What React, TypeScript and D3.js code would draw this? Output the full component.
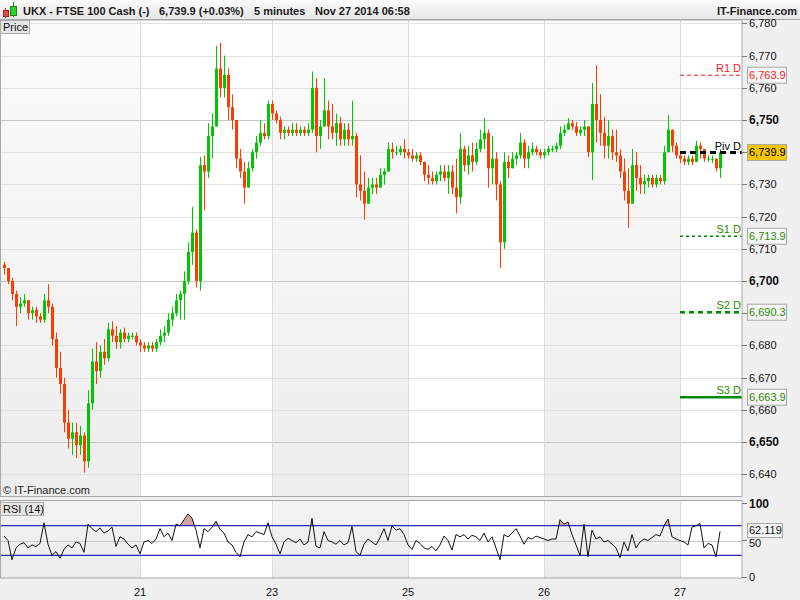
import * as d3 from "d3";
import React from "react";

// 5 minute candles per session: [high, low, close]; open = previous close
const firstOpen = 6705;
const nov20 = [
  [6706, 6702, 6704], [6704, 6699, 6700], [6701, 6694, 6696], [6697, 6686, 6692],
  [6695, 6690, 6693], [6696, 6692, 6694], [6694, 6688, 6690], [6692, 6688, 6691],
  [6692, 6687, 6689], [6690, 6687, 6688], [6696, 6687, 6694], [6699, 6690, 6692],
  [6693, 6680, 6682], [6684, 6670, 6673], [6678, 6665, 6668], [6670, 6653, 6656],
  [6660, 6648, 6651], [6656, 6646, 6653], [6656, 6645, 6649], [6655, 6646, 6652],
  [6653, 6640.5, 6644], [6666, 6642, 6662], [6679, 6660, 6675], [6681, 6668, 6672],
  [6680, 6670, 6678], [6682, 6674, 6676], [6687, 6675, 6685], [6687.5, 6681, 6683],
  [6686, 6679, 6681], [6685, 6679, 6684], [6685.5, 6681, 6682], [6684, 6681, 6683],
  [6684, 6682, 6683], [6684, 6680, 6681],
];
const nov21 = [
  [6682, 6678, 6680], [6681, 6678, 6679], [6681, 6678, 6680], [6681, 6678, 6679],
  [6682, 6678, 6681], [6685, 6680, 6683], [6686, 6681, 6684], [6690, 6683, 6688],
  [6692, 6686, 6690], [6696, 6689, 6694], [6697, 6688, 6696], [6703, 6688, 6700],
  [6712, 6699, 6709], [6723, 6705, 6715], [6716, 6698, 6700], [6738.5, 6697, 6736],
  [6739, 6722, 6734], [6749, 6732, 6745], [6752, 6738, 6748], [6773, 6748, 6766],
  [6774, 6757, 6760], [6770, 6757, 6764], [6766, 6750, 6754], [6758, 6747, 6750],
  [6749, 6735, 6738], [6741, 6732, 6734], [6737, 6724, 6729], [6737, 6729, 6735],
  [6741, 6734, 6740], [6745, 6738, 6743], [6750, 6742, 6746], [6749, 6744, 6745],
  [6756, 6744, 6755],
];
const nov24 = [
  [6756, 6750, 6752], [6753, 6749, 6750], [6751, 6744, 6746], [6748, 6744, 6747],
  [6748, 6745, 6746], [6749, 6745, 6747], [6749, 6745, 6746], [6748, 6745, 6747],
  [6748, 6745, 6746], [6749, 6745, 6747], [6765, 6746, 6760], [6763, 6740, 6745],
  [6750, 6741, 6748], [6763, 6748, 6753], [6756, 6744, 6748], [6755, 6744, 6746],
  [6752, 6742, 6749], [6751, 6742, 6744], [6749, 6742, 6747], [6749, 6742, 6744],
  [6756, 6742, 6745], [6746, 6726, 6730], [6739, 6725, 6728], [6734, 6719, 6724],
  [6732, 6724, 6729], [6732, 6727, 6730], [6732, 6727, 6729], [6735, 6729, 6733],
  [6735, 6730, 6734], [6743, 6734, 6741], [6743, 6738, 6740], [6742, 6739, 6740],
  [6742, 6739, 6741], [6744, 6738, 6740],
];
const nov25 = [
  [6741, 6738, 6739], [6741, 6737, 6738], [6740, 6737, 6739], [6740, 6736, 6737],
  [6737, 6731, 6733], [6736, 6730, 6732], [6734, 6730, 6731], [6734, 6730, 6733],
  [6736, 6731, 6734], [6736, 6731, 6732], [6736, 6727, 6734], [6736, 6727, 6729],
  [6738, 6721, 6726], [6746, 6724, 6741], [6742, 6734, 6736], [6742, 6733, 6739],
  [6743, 6734, 6737], [6743, 6736, 6741], [6747, 6740, 6744], [6750.6, 6741, 6746],
  [6747, 6729, 6735], [6745, 6730, 6738], [6740, 6725, 6730], [6731, 6704, 6712],
  [6740, 6710, 6737], [6739, 6732, 6735], [6740, 6736, 6738], [6740, 6736, 6739],
  [6746, 6738, 6743], [6744, 6735, 6738], [6742, 6735, 6740], [6743, 6739, 6741],
  [6742, 6739, 6740], [6741, 6738, 6739],
];
const nov26 = [
  [6741, 6738, 6740], [6742, 6739, 6741], [6742, 6740, 6741], [6743, 6740, 6742],
  [6748, 6741, 6746], [6748.5, 6745, 6747], [6750.6, 6747, 6749], [6750, 6747, 6748],
  [6749.4, 6745, 6746], [6748, 6745, 6747], [6750, 6745, 6748], [6747, 6738.5, 6740],
  [6761.5, 6731.4, 6755], [6767, 6743, 6750], [6758, 6742, 6746], [6751, 6738, 6742],
  [6750, 6738, 6745], [6747, 6737.6, 6740], [6747, 6737, 6739], [6741, 6732, 6734],
  [6738, 6725, 6728], [6735, 6716.5, 6724], [6741, 6726, 6736], [6740, 6728, 6732],
  [6736, 6727, 6730], [6733, 6727, 6731], [6733, 6729, 6732], [6733, 6729, 6730],
  [6733, 6729, 6732], [6733, 6730, 6731], [6742, 6730, 6740], [6751.5, 6740, 6747],
  [6747, 6740, 6742], [6743, 6738, 6739],
];
const nov27 = [
  [6740, 6736.6, 6738], [6739, 6736, 6737], [6739, 6736, 6738], [6739, 6736, 6737],
  [6743.5, 6737, 6742], [6743, 6738, 6741], [6740, 6737, 6738], [6739, 6737, 6738],
  [6739, 6736.6, 6738], [6738, 6734, 6735], [6741, 6732, 6739.9],
];

// RSI(14), one value per candle
const rsi20 = [56, 50, 24, 40, 45, 47, 40, 44, 42, 46, 74, 45, 30, 35, 26, 38, 44, 40, 48, 46, 34, 72, 66, 62, 67, 60, 63, 68, 42, 55, 52, 45, 40, 44];
const rsi21 = [32, 48, 50, 46, 52, 66, 55, 60, 50, 72, 70, 78, 86, 80, 64, 40, 66, 62, 68, 76, 65, 60, 48, 44, 34, 28, 48, 58, 55, 62, 60, 58, 74];
const rsi24 = [55, 45, 32, 48, 53, 50, 47, 52, 44, 48, 80, 42, 40, 62, 50, 48, 45, 50, 44, 47, 69, 35, 30, 45, 52, 48, 44, 54, 66, 50, 70, 64, 66, 58];
const rsi25 = [44, 38, 50, 46, 40, 38, 42, 36, 44, 56, 50, 37, 58, 55, 58, 52, 57, 55, 50, 60, 48, 55, 40, 24, 58, 55, 60, 66, 56, 45, 54, 52, 56, 54];
const rsi26 = [52, 50, 52, 52, 78, 72, 75, 58, 44, 30, 72, 28, 64, 52, 55, 48, 50, 45, 40, 27, 48, 36, 58, 40, 48, 52, 50, 54, 58, 56, 70, 79, 55, 52];
const rsi27 = [50, 48, 44, 68, 70, 73, 40, 46, 44, 28, 62.119];

const dayLabels = ["21", "23", "25", "26", "27"];
const pivotNames = ["R1 D", "Piv D", "S1 D", "S2 D", "S3 D"];
const pivotValues = [6763.9, 6739.9, 6713.9, 6690.3, 6663.9];
const lastRsi = 62.119;

const UP = "#00c800";
const DOWN = "#ff3c00";
const FONT = "'Liberation Sans', Arial, sans-serif";

const pivotStyle = [
  { color: "#ff1a1a", width: 1, dash: "4,3", fill: "#f6f6f6", text: "#ff1a1a" },
  { color: "#000000", width: 3, dash: "6,4", fill: "#f5c500", text: "#000000" },
  { color: "#008a00", width: 1.5, dash: "3,3", fill: "#f6f6f6", text: "#2a8a00" },
  { color: "#008a00", width: 2.5, dash: "5,4", fill: "#f6f6f6", text: "#2a8a00" },
  { color: "#008a00", width: 2.5, dash: null, fill: "#f6f6f6", text: "#2a8a00" },
];

export default function App() {
  const days = [nov20, nov21, nov24, nov25, nov26, nov27];
  const candles: { o: number; h: number; l: number; c: number }[] = [];
  let prev = firstOpen;
  days.forEach((day) =>
    day.forEach(([h, l, c]) => {
      candles.push({ o: prev, h, l, c });
      prev = c;
    })
  );
  const rsi = [...rsi20, ...rsi21, ...rsi24, ...rsi25, ...rsi26, ...rsi27];
  const dayStarts = Array.from(d3.cumsum(days.map((d) => d.length))).slice(0, -1);

  const left = 1;
  const right = 742;
  const mainTop = 20;
  const mainBottom = 496;
  const rsiTop = 501;
  const rsiBottom = 578;

  const x = d3.scaleLinear().domain([-0.5, 184.5]).range([2, 742]);
  const y = d3.scaleLinear().domain([6640, 6750]).range([474.2, 120]);
  const r = d3.scaleLinear().domain([0, 100]).range([577.5, 503.5]);

  const priceTicks = y.copy().domain([6633, 6781]).ticks(15).filter((t) => t >= 6640 && t <= 6780);
  // labels that sit right behind a value box are not shown (as in the original)
  const hiddenTick = (t: number) => pivotValues.some((v) => Math.abs(y(v) - y(t)) < 8);

  // shaded sessions: 20, 24, 26
  const shaded = [
    [left, x(dayStarts[0])],
    [x(dayStarts[1]), x(dayStarts[2])],
    [x(dayStarts[3]), x(dayStarts[4])],
  ];

  const rsiLine = d3
    .line<number>()
    .x((_, i) => x(i))
    .y((v) => r(v));
  const rsiArea = d3
    .area<number>()
    .x((_, i) => x(i))
    .y0(r(70))
    .y1((v) => r(v));

  const pivotStart = x(dayStarts[4]);

  return (
    <svg
      width={800}
      height={600}
      style={{ position: "absolute", left: 0, top: 0, fontFamily: FONT }}
    >
      <defs>
        <linearGradient id="hdr" x1="0" y1="0" x2="0" y2="1">
          <stop offset="0" stopColor="#fbfbfb" />
          <stop offset="1" stopColor="#e6e6e6" />
        </linearGradient>
        <linearGradient id="shadeMain" x1="0" y1="0" x2="0" y2="1">
          <stop offset="0" stopColor="#fbfbfb" />
          <stop offset="1" stopColor="#ededed" />
        </linearGradient>
        <linearGradient id="shadeRsi" x1="0" y1="0" x2="0" y2="1">
          <stop offset="0" stopColor="#f3f3f3" />
          <stop offset="1" stopColor="#ececec" />
        </linearGradient>
        <clipPath id="clipMain">
          <rect x={left} y={mainTop} width={right - left} height={mainBottom - mainTop} />
        </clipPath>
        <clipPath id="clipOver">
          <rect x={left} y={rsiTop} width={right - left} height={r(70) - rsiTop} />
        </clipPath>
      </defs>

      {/* background */}
      <rect x={0} y={0} width={800} height={600} fill="#f0f0f0" />

      {/* header */}
      <rect x={0} y={0} width={800} height={19} fill="url(#hdr)" />
      <line x1={0} x2={800} y1={19.5} y2={19.5} stroke="#a8a8a8" />
      <line x1={5.5} x2={5.5} y1={8} y2={18} stroke="#b03030" />
      <rect x={3.5} y={10.5} width={5} height={6} fill="#e84848" stroke="#a02828" />
      <line x1={13.5} x2={13.5} y1={2} y2={17} stroke="#208020" />
      <rect x={10.5} y={6.5} width={6} height={9} fill="#30d030" stroke="#208020" />
      <g fontSize={11} fontWeight="bold" fill="#1a1a1a">
        <text x={23} y={15}>UKX - FTSE 100 Cash (-)</text>
        <text x={159} y={15}>6,739.9 (+0.03%)</text>
        <text x={254} y={15}>5 minutes</text>
        <text x={315} y={15}>Nov 27 2014 06:58</text>
        <text x={797} y={15} textAnchor="end">IT-Finance.com</text>
      </g>

      {/* main panel */}
      <rect x={left} y={mainTop} width={right - left} height={mainBottom - mainTop} fill="#ffffff" />
      {shaded.map(([a, b], i) => (
        <rect key={i} x={a} y={mainTop} width={b - a} height={mainBottom - mainTop} fill="url(#shadeMain)" />
      ))}
      {priceTicks.map((t) => (
        <line
          key={t}
          x1={left}
          x2={right}
          y1={Math.round(y(t)) + 0.5}
          y2={Math.round(y(t)) + 0.5}
          stroke={t % 50 === 0 ? "#c6c6c6" : "#e2e2e2"}
        />
      ))}
      {dayStarts.map((s, i) => (
        <line key={i} x1={x(s) + 0.5} x2={x(s) + 0.5} y1={mainTop} y2={mainBottom} stroke="#dcdcdc" />
      ))}

      <g clipPath="url(#clipMain)">
        {candles.map((d, i) => {
          const cx = x(i);
          const col = d.c >= d.o ? UP : DOWN;
          const top = y(Math.max(d.o, d.c));
          const bot = y(Math.min(d.o, d.c));
          return (
            <g key={i}>
              <line
                x1={cx + 0.5}
                x2={cx + 0.5}
                y1={y(Math.max(d.h, d.o, d.c))}
                y2={y(Math.min(d.l, d.o, d.c))}
                stroke={col}
              />
              <rect x={cx - 1} y={top} width={3} height={Math.max(1, bot - top)} fill={col} />
            </g>
          );
        })}

        {pivotValues.map((v, i) => {
          const s = pivotStyle[i];
          const py = y(v);
          return (
            <g key={i}>
              <line
                x1={pivotStart}
                x2={right}
                y1={py}
                y2={py}
                stroke={s.color}
                strokeWidth={s.width}
                strokeDasharray={s.dash || undefined}
              />
              <text x={right - 1} y={py - 3} textAnchor="end" fontSize={11} fill={s.text}>
                {pivotNames[i]}
              </text>
            </g>
          );
        })}
      </g>

      <text x={3} y={494} fontSize={11} fill="#222">© IT-Finance.com</text>
      <rect x={left - 0.5} y={mainTop} width={right - left + 0.5} height={mainBottom - mainTop + 0.5} fill="none" stroke="#a8a8a8" />

      <rect x={0.5} y={20.5} width={29} height={13} fill="#e6e6e6" stroke="#ababab" />
      <text x={3} y={31} fontSize={11} fill="#111">Price</text>

      {/* price axis */}
      {priceTicks.map((t) => (
        <g key={t}>
          <line x1={right} x2={right + 5} y1={Math.round(y(t)) + 0.5} y2={Math.round(y(t)) + 0.5} stroke="#777" />
          {!hiddenTick(t) && (
            <text
              x={749}
              y={y(t)}
              dy="0.36em"
              fontSize={t % 50 === 0 ? 12 : 11}
              fontWeight={t % 50 === 0 ? "bold" : "normal"}
              fill="#111"
            >
              {d3.format(",")(t)}
            </text>
          )}
        </g>
      ))}
      {pivotValues.map((v, i) => {
        const s = pivotStyle[i];
        const py = y(v);
        return (
          <g key={i}>
            <rect x={747.5} y={py - 8} width={39} height={16} fill={s.fill} stroke="#a8a8a8" />
            <text x={749} y={py} dy="0.36em" fontSize={11} fill={s.text}>
              {d3.format(",.1f")(v)}
            </text>
          </g>
        );
      })}

      {/* RSI panel */}
      <rect x={left} y={rsiTop} width={right - left} height={rsiBottom - rsiTop} fill="#ffffff" />
      {shaded.map(([a, b], i) => (
        <rect key={i} x={a} y={rsiTop} width={b - a} height={rsiBottom - rsiTop} fill="url(#shadeRsi)" />
      ))}
      {dayStarts.map((s, i) => (
        <line key={i} x1={x(s) + 0.5} x2={x(s) + 0.5} y1={rsiTop} y2={rsiBottom} stroke="#dcdcdc" />
      ))}
      <line x1={left} x2={right} y1={Math.round(r(50)) + 0.5} y2={Math.round(r(50)) + 0.5} stroke="#c8c8c8" />
      <path d={rsiArea(rsi) || ""} fill="#d4a5a5" clipPath="url(#clipOver)" />
      {[70, 30].map((lv) => (
        <line key={lv} x1={left} x2={right} y1={r(lv)} y2={r(lv)} stroke="#2a2ab4" strokeWidth={1.3} />
      ))}
      <path d={rsiLine(rsi) || ""} fill="none" stroke="#111" strokeWidth={1} />
      <rect x={left - 0.5} y={rsiTop - 0.5} width={right - left + 0.5} height={rsiBottom - rsiTop + 0.5} fill="none" stroke="#a8a8a8" />
      <rect x={0.5} y={502.5} width={43} height={13} fill="#e6e6e6" stroke="#ababab" />
      <text x={3} y={513} fontSize={11} fill="#111">RSI (14)</text>

      {[0, 50, 100].map((t) => (
        <g key={t}>
          <line x1={right} x2={right + 5} y1={r(t)} y2={r(t)} stroke="#777" />
          <text
            x={749}
            y={t === 50 ? r(t) + 3 : r(t)}
            dy="0.36em"
            fontSize={t === 100 ? 12 : 11}
            fontWeight={t === 100 ? "bold" : "normal"}
            fill="#111"
          >
            {t}
          </text>
        </g>
      ))}
      <rect x={747.5} y={r(lastRsi) - 8} width={35} height={14} fill="#f6f6f6" stroke="#a8a8a8" />
      <text x={749} y={r(lastRsi) - 1} dy="0.36em" fontSize={11} fill="#111">
        {lastRsi}
      </text>

      {/* day axis */}
      {dayStarts.map((s, i) => (
        <text key={i} x={x(s)} y={596} textAnchor="middle" fontSize={11} fill="#111">
          {dayLabels[i]}
        </text>
      ))}
    </svg>
  );
}
